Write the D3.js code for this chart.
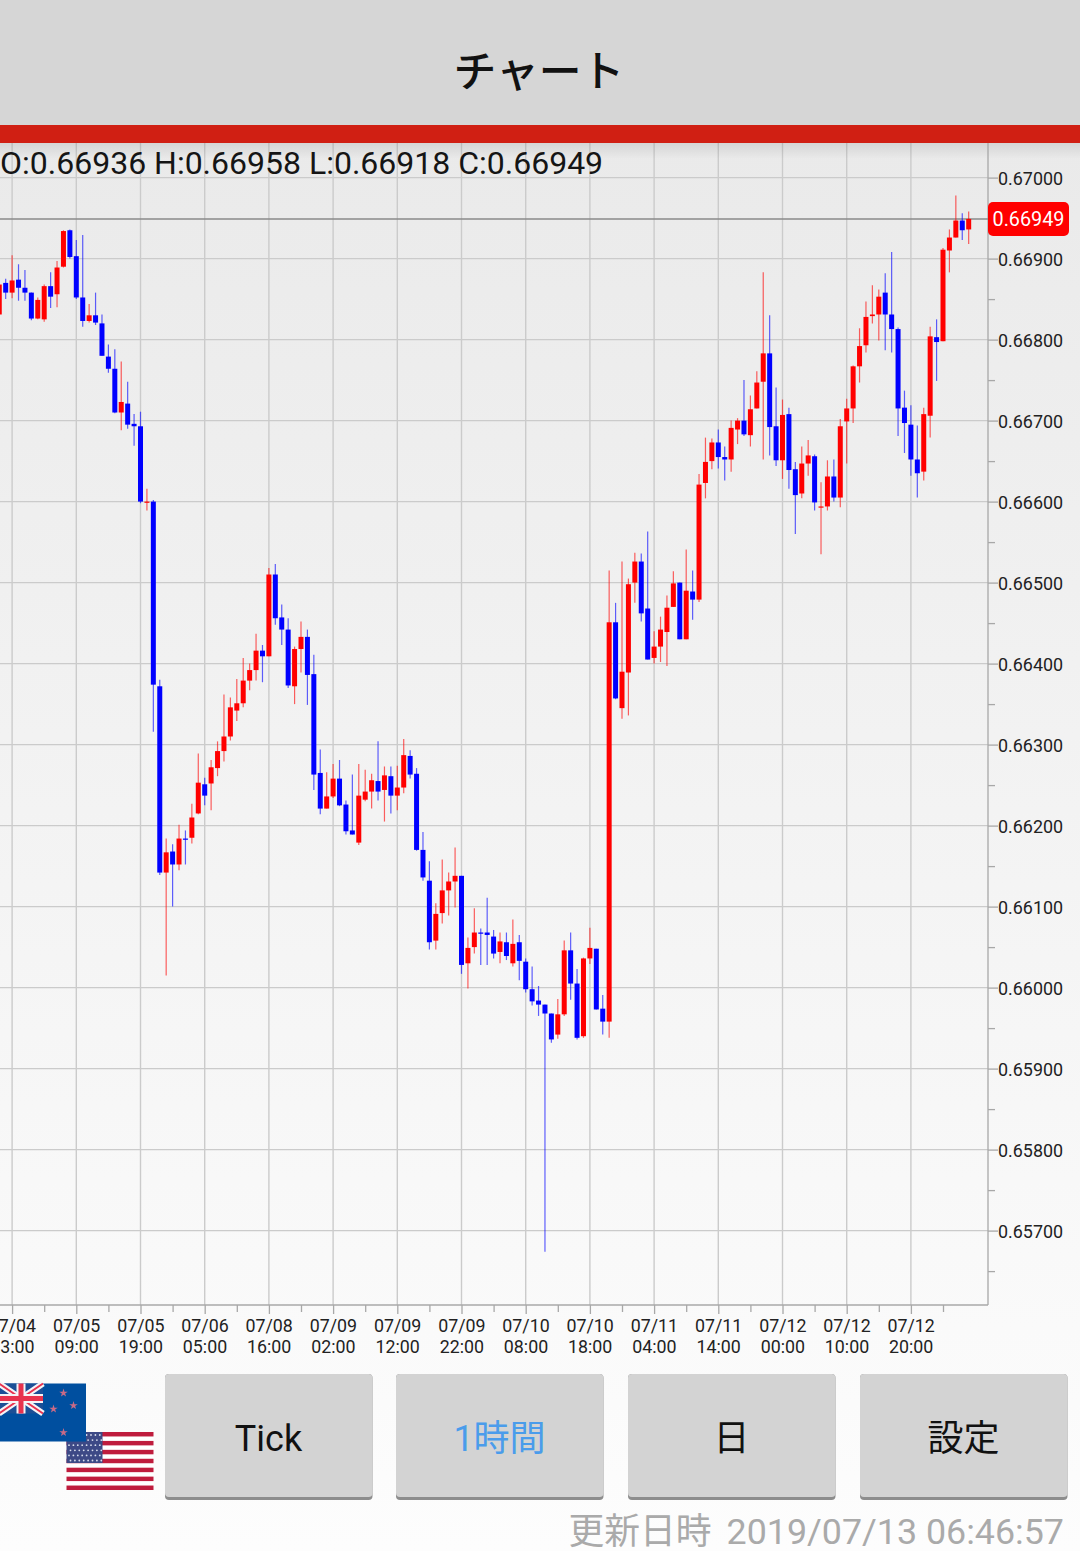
<!DOCTYPE html>
<html lang="ja">
<head>
<meta charset="utf-8">
<title>チャート</title>
<script src="https://cdn.jsdelivr.net/npm/d3@7/dist/d3.min.js"></script>
<style>
html,body{margin:0;padding:0;background:#fff;overflow:hidden}
svg{display:block}
text{font-family:Roboto,"Noto Sans CJK JP",sans-serif}
</style>
</head>
<body>
<svg id="c" width="1080" height="1551" viewBox="0 0 1080 1551"></svg>
<script>
const title = "チャート";
const ohlcHeader = "O:0.66936 H:0.66958 L:0.66918 C:0.66949";
const lastPrice = 0.66949;
const footerLabel = "更新日時";
const footerStamp = "2019/07/13 06:46:57";
const buttonLabels = ["Tick", "1時間", "日", "設定"];
const priceTicks = [0.67,0.669,0.668,0.667,0.666,0.665,0.664,0.663,0.662,0.661,0.66,0.659,0.658,0.657];
const priceMinorTicks = [0.6695,0.6685,0.6675,0.6665,0.6655,0.6645,0.6635,0.6625,0.6615,0.6605,0.6595,0.6585,0.6575,0.6565];
const timeTickIndex = [2,12,22,32,42,52,62,72,82,92,102,112,122,132,142];
const timeMinorIndex = [7,17,27,37,47,57,67,77,87,97,107,117,127,137,147];
const timeLabels = ["07/04 23:00","07/05 09:00","07/05 19:00","07/06 05:00","07/08 16:00","07/09 02:00","07/09 12:00","07/09 22:00","07/10 08:00","07/10 18:00","07/11 04:00","07/11 14:00","07/12 00:00","07/12 10:00","07/12 20:00"];

const open = [.66831,.66870,.66858,.66874,.66864,.66858,.66826,.66825,.66866,.66856,
.66890,.66935,.66903,.66852,.66823,.66830,.66820,.66779,.66764,.66710,
.66721,.66696,.66693,.66599,.66600,.66372,.66142,.66168,.66152,.66184,
.66185,.66215,.66251,.66252,.66271,.66292,.66310,.66342,.66351,.66379,
.66392,.66416,.66409,.66510,.66457,.66442,.66372,.66418,.66433,.66387,
.66265,.66221,.66236,.66258,.66226,.66194,.66179,.66232,.66242,.66255,
.66244,.66261,.66237,.66247,.66286,.66264,.66170,.66132,.66058,.66092,
.66120,.66131,.66138,.66030,.66050,.66068,.66068,.66063,.66044,.66056,
.66030,.66056,.66032,.65998,.65984,.65979,.65968,.65942,.65967,.66046,
.66005,.65940,.66036,.66048,.65974,.65958,.66451,.66345,.66389,.66500,
.66526,.66468,.66407,.66421,.66439,.66470,.66500,.66430,.66489,.66479,
.66623,.66650,.66673,.66655,.66652,.66689,.66700,.66682,.66715,.66748,
.66783,.66693,.66651,.66708,.66640,.66610,.66647,.66656,.66593,.66594,
.66631,.66605,.66699,.66715,.66767,.66793,.66829,.66831,.66858,.66831,
.66813,.66716,.66695,.66652,.66637,.66706,.66803,.66798,.66910,.66926,
.66947,.66936];
const high = [.66873,.66875,.66904,.66893,.66886,.66858,.66852,.66868,.66883,.66897,
.66935,.66936,.66923,.66929,.66844,.66858,.66831,.66794,.66788,.66773,
.66748,.66708,.66711,.66616,.66602,.66380,.66184,.66177,.66201,.66194,
.66227,.66289,.66259,.66281,.66304,.66362,.66358,.66381,.66407,.66400,
.66437,.66423,.66518,.66523,.66473,.66456,.66421,.66452,.66442,.66411,
.66294,.66266,.66276,.66281,.66231,.66263,.66276,.66269,.66264,.66304,
.66273,.66273,.66274,.66307,.66293,.66271,.66192,.66156,.66104,.66158,
.66142,.66173,.66138,.66062,.66098,.66073,.66111,.66071,.66068,.66068,
.66084,.66065,.66036,.66026,.66002,.65979,.65968,.65986,.66058,.66068,
.66023,.66037,.66074,.66048,.65991,.66515,.66475,.66526,.66505,.66537,
.66536,.66563,.66440,.66458,.66484,.66514,.66500,.66541,.66515,.66634,
.66679,.66678,.66689,.66668,.66700,.66703,.66750,.66731,.66761,.66883,
.66830,.66741,.66726,.66716,.66649,.66668,.66676,.66658,.66624,.66651,
.66652,.66702,.66727,.66768,.66814,.66847,.66867,.66862,.66882,.66908,
.66815,.66737,.66719,.66694,.66716,.66816,.66825,.66913,.66936,.66978,
.66956,.66958];
const low = [.66820,.66850,.66851,.66848,.66848,.66824,.66825,.66822,.66839,.66840,
.66889,.66900,.66850,.66816,.66821,.66818,.66780,.66759,.66709,.66688,
.66690,.66669,.66598,.66589,.66316,.66139,.66015,.66100,.66145,.66152,
.66178,.66214,.66225,.66219,.66261,.66279,.66305,.66329,.66346,.66367,
.66379,.66377,.66409,.66448,.66423,.66370,.66350,.66389,.66349,.66244,
.66214,.66221,.66234,.66224,.66189,.66189,.66176,.66230,.66221,.66231,
.66205,.66215,.66219,.66240,.66258,.66169,.66132,.66047,.66047,.66079,
.66089,.66099,.66017,.65999,.66042,.66028,.66028,.66036,.66030,.66034,
.66026,.66009,.65994,.65978,.65965,.65674,.65932,.65937,.65965,.65985,
.65936,.65938,.66029,.65973,.65942,.65938,.66356,.66332,.66336,.66475,
.66452,.66405,.66400,.66402,.66397,.66470,.66430,.66430,.66454,.66476,
.66604,.66640,.66641,.66626,.66637,.66671,.66681,.66668,.66715,.66652,
.66657,.66644,.66628,.66616,.66560,.66604,.66632,.66589,.66535,.66589,
.66600,.66593,.66647,.66697,.66747,.66784,.66820,.66799,.66787,.66784,
.66681,.66660,.66632,.66605,.66626,.66679,.66749,.66798,.66883,.66926,
.66923,.66918];
const close = [.66868,.66858,.66873,.66864,.66858,.66826,.66849,.66866,.66853,.66889,
.66934,.66902,.66852,.66823,.66830,.66821,.66780,.66764,.66710,.66723,
.66695,.66693,.66600,.66600,.66374,.66142,.66167,.66152,.66184,.66183,
.66210,.66253,.66237,.66272,.66292,.66310,.66346,.66351,.66379,.66392,
.66416,.66409,.66510,.66456,.66442,.66373,.66418,.66433,.66386,.66263,
.66221,.66236,.66258,.66225,.66193,.66189,.66237,.66242,.66256,.66242,
.66262,.66237,.66247,.66287,.66263,.66170,.66136,.66056,.66091,.66120,
.66131,.66138,.66028,.66049,.66068,.66067,.66065,.66042,.66057,.66039,
.66054,.66033,.65998,.65983,.65979,.65968,.65936,.65967,.66046,.66005,
.65938,.66036,.66049,.65973,.65958,.66451,.66357,.66390,.66498,.66526,
.66462,.66405,.66421,.66442,.66469,.66499,.66430,.66490,.66479,.66621,
.66649,.66673,.66655,.66652,.66691,.66700,.66683,.66714,.66747,.66783,
.66692,.66651,.66707,.66639,.66608,.66647,.66657,.66599,.66594,.66631,
.66605,.66693,.66715,.66767,.66792,.66828,.66831,.66853,.66831,.66813,
.66715,.66697,.66652,.66635,.66708,.66804,.66797,.66911,.66926,.66947,
.66935,.66949];

const UP = "#ff0000", DOWN = "#0000ff";
const svg = d3.select("#c");
const plot = {left:0, right:988, top:143, bottom:1305};
const x = d3.scaleLinear().domain([0,151]).range([-0.74,968.68]);
const y = d3.scaleLinear().domain([0.67,0.66]).range([177.6,987.6]);

const defs = svg.append("defs");
const bg = defs.append("linearGradient").attr("id","bg").attr("x1",0).attr("x2",0).attr("y1",0).attr("y2",1);
bg.append("stop").attr("offset",0).attr("stop-color","#eaeaea");
bg.append("stop").attr("offset",1).attr("stop-color","#fdfdfd");
const sh = defs.append("linearGradient").attr("id","sh").attr("x1",0).attr("x2",0).attr("y1",0).attr("y2",1);
sh.append("stop").attr("offset",0).attr("stop-color","#000").attr("stop-opacity",.09);
sh.append("stop").attr("offset",1).attr("stop-color","#000").attr("stop-opacity",0);
defs.append("filter").attr("id","soft").attr("x","-5%").attr("y","-5%").attr("width","110%").attr("height","110%")
  .append("feGaussianBlur").attr("stdDeviation",0.6);

svg.append("rect").attr("x",0).attr("y",143).attr("width",1080).attr("height",1408).attr("fill","url(#bg)");

// vertical + horizontal grid
const GRID = "#cbcbcb";
svg.append("g").selectAll("line").data(timeTickIndex).join("line")
  .attr("x1",d=>x(d)).attr("x2",d=>x(d)).attr("y1",plot.top).attr("y2",plot.bottom)
  .attr("stroke",GRID).attr("stroke-width",1.4);
svg.append("g").selectAll("line").data(priceTicks).join("line")
  .attr("x1",plot.left).attr("x2",plot.right).attr("y1",d=>y(d)).attr("y2",d=>y(d))
  .attr("stroke",GRID).attr("stroke-width",1.4);

// shadow under the bar
svg.append("rect").attr("x",0).attr("y",143).attr("width",1080).attr("height",16).attr("fill","url(#sh)");

// header
svg.append("rect").attr("x",0).attr("y",0).attr("width",1080).attr("height",125).attr("fill","#d6d6d6");
svg.append("rect").attr("x",0).attr("y",125).attr("width",1080).attr("height",18).attr("fill","#d01f13");
svg.append("text").attr("x",539).attr("y",87).attr("text-anchor","middle")
  .attr("font-size",42.8).attr("font-weight",500).attr("fill","#111").style("font-family",'"Noto Sans CJK JP"').text(title);

// axes
const axisColor = "#a8a8a8";
const styleAxis = g => { g.selectAll("path,line").attr("stroke",axisColor).attr("stroke-width",1.3); };
const yAxis = svg.append("g").attr("transform",`translate(${plot.right},0)`)
  .call(d3.axisRight(y).tickValues(priceTicks).tickSize(10).tickPadding(0).tickFormat(d3.format(".5f")));
yAxis.select(".domain").attr("d",`M0,${plot.top}V${plot.bottom}`);
yAxis.selectAll("text").attr("font-size",17.9).attr("fill","#222").attr("x",10).attr("y",0.7).style("font-family","Roboto");
styleAxis(yAxis);
const yMinor = svg.append("g").attr("transform",`translate(${plot.right},0)`)
  .call(d3.axisRight(y).tickValues(priceMinorTicks).tickSize(7).tickFormat(""));
yMinor.select(".domain").remove();
styleAxis(yMinor);

const xAxis = svg.append("g").attr("transform",`translate(0,${plot.bottom})`)
  .call(d3.axisBottom(x).tickValues(timeTickIndex).tickSize(9).tickFormat(""));
xAxis.select(".domain").attr("d",`M0,0H${plot.right}`);
styleAxis(xAxis);
const xMinor = svg.append("g").attr("transform",`translate(0,${plot.bottom})`)
  .call(d3.axisBottom(x).tickValues(timeMinorIndex).tickSize(7).tickFormat(""));
xMinor.select(".domain").remove();
styleAxis(xMinor);
const tl = svg.append("g").selectAll("text").data(timeTickIndex).join("text")
  .attr("text-anchor","middle").attr("font-size",17.8).attr("fill","#222").style("font-family","Roboto");
tl.append("tspan").attr("x",d=>x(d)+0.3).attr("y",1331.5).text((d,i)=>timeLabels[i].split(" ")[0]);
tl.append("tspan").attr("x",d=>x(d)+0.3).attr("y",1352.5).text((d,i)=>timeLabels[i].split(" ")[1]);

// price line
svg.append("line").attr("x1",0).attr("x2",plot.right).attr("y1",y(lastPrice)).attr("y2",y(lastPrice))
  .attr("stroke","#8a8a8a").attr("stroke-width",1.5);

// candles
const idx = d3.range(open.length);
const colorOf = i => close[i] >= open[i] ? UP : DOWN;
svg.append("g").selectAll("line").data(idx).join("line")
  .attr("x1",i=>x(i)).attr("x2",i=>x(i)).attr("y1",i=>y(high[i])).attr("y2",i=>y(low[i]))
  .attr("stroke",colorOf).attr("stroke-width",1.2).attr("stroke-opacity",.62);
svg.append("g").selectAll("rect").data(idx).join("rect")
  .attr("x",i=>x(i)-2.5).attr("width",5)
  .attr("y",i=>Math.min(y(open[i]),y(close[i])))
  .attr("height",i=>Math.max(1.2,Math.abs(y(open[i])-y(close[i]))))
  .attr("fill",colorOf);

// OHLC text
svg.append("text").attr("x",0).attr("y",173.5).attr("font-size",32).attr("fill","#151515")
  .style("font-family","Roboto").text(ohlcHeader);

// last price tag
svg.append("rect").attr("x",988).attr("y",202).attr("width",81).attr("height",34).attr("rx",5).attr("fill","#ff0000");
svg.append("text").attr("x",1028.5).attr("y",y(lastPrice)+7).attr("text-anchor","middle").attr("font-size",19.8)
  .attr("fill","#fff").style("font-family","Roboto").text(d3.format(".5f")(lastPrice));

// flags
const flags = svg.append("g").attr("filter","url(#soft)");
const us = flags.append("g");
us.append("rect").attr("x",66.5).attr("y",1432).attr("width",87).attr("height",58).attr("fill","#fff");
us.selectAll("rect.s").data(d3.range(0,13,2)).join("rect").attr("class","s")
  .attr("x",66.5).attr("width",87).attr("y",d=>1432+d*58/13).attr("height",58/13).attr("fill","#bf1a3c");
us.append("rect").attr("x",66.5).attr("y",1432).attr("width",36).attr("height",31).attr("fill","#3c4a86");
us.selectAll("circle").data(d3.cross(d3.range(8),d3.range(6))).join("circle")
  .attr("cx",d=>69+d[0]*4.4+(d[1]%2)*1.5).attr("cy",d=>1435+d[1]*5.1).attr("r",.9).attr("fill","#d8dcec");
const nz = flags.append("g");
nz.append("rect").attr("x",-1).attr("y",1383.5).attr("width",87).attr("height",58).attr("fill","#00509f");
const uj = nz.append("g");
uj.append("rect").attr("x",-1).attr("y",1383.5).attr("width",44).attr("height",30).attr("fill","#1d4f96");
uj.append("path").attr("d","M-1,1383.5L43,1413.5M43,1383.5L-1,1413.5").attr("stroke","#f4f4f6").attr("stroke-width",6);
uj.append("path").attr("d","M-1,1383.5L43,1413.5M43,1383.5L-1,1413.5").attr("stroke","#e8304e").attr("stroke-width",2);
uj.append("path").attr("d","M21,1383.5V1413.5M-1,1398.5H43").attr("stroke","#f4f4f6").attr("stroke-width",9);
uj.append("path").attr("d","M21,1383.5V1413.5M-1,1398.5H43").attr("stroke","#e8304e").attr("stroke-width",5);
const star = d3.symbol().type(d3.symbolStar).size(22);
nz.selectAll("path.st").data([[63.5,1393],[73.5,1405.5],[53.5,1409],[63.5,1432.5]]).join("path").attr("class","st")
  .attr("d",star).attr("transform",d=>`translate(${d[0]},${d[1]})`).attr("fill","#c96a86");

// buttons
const btnX = [165,396,628,860];
const btn = svg.append("g").selectAll("g").data(buttonLabels).join("g");
btn.append("rect").attr("x",(d,i)=>btnX[i]).attr("y",1374).attr("width",207.5).attr("height",126).attr("rx",4).attr("fill","#8d8d8d");
btn.append("rect").attr("x",(d,i)=>btnX[i]).attr("y",1374).attr("width",207.5).attr("height",123).attr("rx",4).attr("fill","#d3d3d3");
btn.append("text").attr("x",(d,i)=>btnX[i]+103.5).attr("y",1451).attr("text-anchor","middle")
  .attr("font-size",36).attr("fill",(d,i)=>i===1?"#4a9ceb":"#111")
  .style("font-family",(d,i)=>i===0?"Roboto":'Roboto,"Noto Sans CJK JP"').text(d=>d);

// footer
const ft = svg.append("text").attr("x",1064).attr("y",1544).attr("text-anchor","end").attr("font-size",35.8).attr("fill","#aaaaaa");
ft.append("tspan").style("font-family",'"Noto Sans CJK JP"').text(footerLabel);
ft.append("tspan").attr("dx",15).style("font-family","Roboto").text(footerStamp);
</script>
</body>
</html>
